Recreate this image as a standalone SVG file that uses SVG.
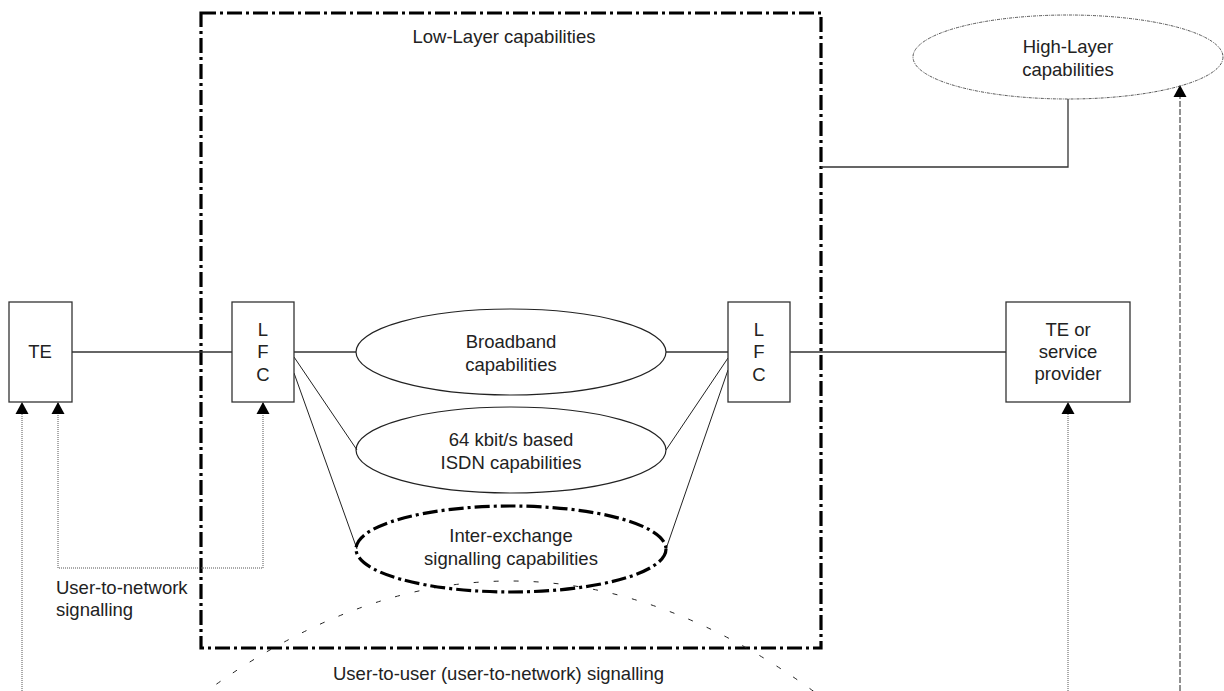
<svg xmlns="http://www.w3.org/2000/svg" width="1224" height="691" viewBox="0 0 1224 691">
<defs>
<style>
text{font-family:"Liberation Sans",Arial,sans-serif;font-size:18.5px;fill:#222;text-anchor:middle}
.box{fill:#fff;stroke:#333;stroke-width:1.3}
.ell{fill:none;stroke:#222;stroke-width:1.2}
.solid{fill:none;stroke:#333;stroke-width:1.3}
.thin{fill:none;stroke:#222;stroke-width:1}
.dot{fill:none;stroke:#555;stroke-width:1;stroke-dasharray:1 1}
.dashdot{fill:none;stroke:#000;stroke-width:3.2;stroke-dasharray:15 4 3 4}
.cone{fill:none;stroke:#222;stroke-width:1;stroke-dasharray:5 15}
.hl{fill:none;stroke:#555;stroke-width:1;stroke-dasharray:3 1 1 1}
.fine{fill:none;stroke:#222;stroke-width:1;stroke-dasharray:6 2}
.arrow{fill:#000}
</style>
</defs>

<g id="low-layer-box">
<rect x="201" y="13" width="620" height="635" class="dashdot"/>
<text x="504" y="43">Low-Layer capabilities</text>
</g>

<g id="connectors">
<line x1="72" y1="352" x2="232" y2="352" class="solid"/>
<line x1="294" y1="352" x2="356" y2="352" class="solid"/>
<line x1="666" y1="352" x2="728" y2="352" class="solid"/>
<line x1="790" y1="352" x2="1006" y2="352" class="solid"/>
<line x1="294" y1="357" x2="357" y2="450" class="thin"/>
<line x1="294" y1="373" x2="357" y2="549" class="thin"/>
<line x1="728" y1="358" x2="666" y2="450" class="thin" stroke-width="0.8"/>
<line x1="728" y1="370" x2="666" y2="549" class="thin"/>
<polyline points="821,167 1068,167 1068,99" class="solid"/>
<line x1="22" y1="691" x2="22" y2="403" class="dot"/>
<polyline points="263,403 263,568 58,568 58,403" class="dot"/>
<line x1="1068" y1="691" x2="1068" y2="403" class="dot"/>
<line x1="1180" y1="691" x2="1180" y2="86" class="fine"/>
<path d="M200,696 Q510,466 820,696" class="cone"/>
<path d="M22,402 L28.5,414 L15.5,414 Z" class="arrow"/>
<path d="M58,402 L64.5,414 L51.5,414 Z" class="arrow"/>
<path d="M263,402 L269.5,414 L256.5,414 Z" class="arrow"/>
<path d="M1068,402 L1074.5,414 L1061.5,414 Z" class="arrow"/>
<path d="M1180,85 L1186.5,97 L1173.5,97 Z" class="arrow"/>
</g>

<g id="te">
<rect x="9" y="302" width="63" height="100" class="box"/>
<text x="40" y="358">TE</text>
</g>

<g id="lfc-left">
<rect x="232" y="302" width="62" height="100" class="box"/>
<text x="263" y="336">L</text>
<text x="263" y="358">F</text>
<text x="263" y="381">C</text>
</g>

<g id="lfc-right">
<rect x="728" y="302" width="62" height="100" class="box"/>
<text x="759" y="336">L</text>
<text x="759" y="358">F</text>
<text x="759" y="381">C</text>
</g>

<g id="te-service-provider">
<rect x="1006" y="302" width="124" height="100" class="box"/>
<text x="1068" y="336">TE or</text>
<text x="1068" y="358">service</text>
<text x="1068" y="380">provider</text>
</g>

<g id="broadband">
<ellipse cx="511" cy="352" rx="155" ry="43" class="ell"/>
<text x="511" y="348">Broadband</text>
<text x="511" y="371">capabilities</text>
</g>

<g id="isdn64">
<ellipse cx="511" cy="450" rx="155" ry="43" class="ell"/>
<text x="511" y="446">64 kbit/s based</text>
<text x="511" y="469">ISDN capabilities</text>
</g>

<g id="inter-exchange">
<ellipse cx="511" cy="549" rx="155" ry="43" class="dashdot"/>
<text x="511" y="542">Inter-exchange</text>
<text x="511" y="565">signalling capabilities</text>
</g>

<g id="high-layer">
<ellipse cx="1068" cy="57" rx="155" ry="42" class="hl"/>
<text x="1068" y="53">High-Layer</text>
<text x="1068" y="76">capabilities</text>
</g>

<g id="labels">
<text x="56" y="594" style="text-anchor:start">User-to-network</text>
<text x="56" y="616" style="text-anchor:start">signalling</text>
<text x="333" y="680" style="text-anchor:start">User-to-user (user-to-network) signalling</text>
</g>
</svg>
